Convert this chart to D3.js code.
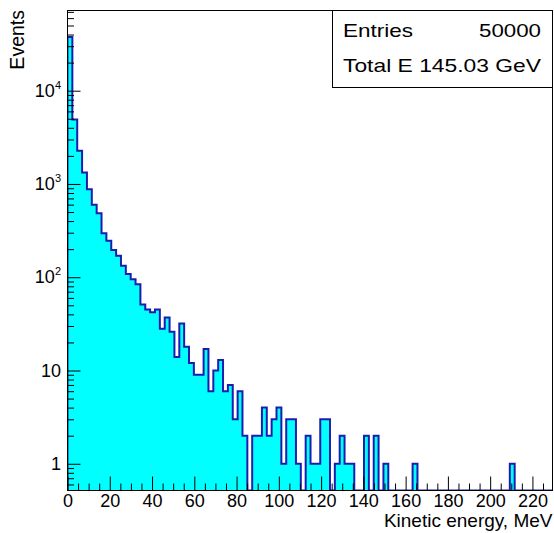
<!DOCTYPE html>
<html>
<head>
<meta charset="utf-8">
<script src="https://cdn.jsdelivr.net/npm/d3@7"></script>
<style>
  body { margin: 0; background: #fff; }
  svg text { font-family: "Liberation Sans", Arial, Helvetica, sans-serif; fill: #000; }
</style>
</head>
<body>
<div id="plot"></div>
<script>
// -----------------------------------------------------------------------
//  Data
// -----------------------------------------------------------------------

// histogram: 100 bins starting at 0 MeV, 2.3 MeV wide
const binStart = 0;
const binWidth = 2.3;
const binCounts = [
    37710, 4920, 2270, 1330, 875, 600, 484, 296, 246, 196,
    170, 133, 108, 95, 84, 51, 45, 42, 45, 28,
    37, 26, 14, 32, 18, 12, 9, 9, 17, 6,
    10, 13, 6, 7, 3, 6, 2, 0, 2, 2,
    4, 2, 3, 4, 1, 3, 3, 1, 0, 2,
    1, 1, 3, 3, 0, 1, 2, 1, 1, 0,
    0, 2, 0, 2, 0, 1, 0, 0, 0, 0,
    0, 1, 0, 0, 0, 0, 0, 0, 0, 0,
    0, 0, 0, 0, 0, 0, 0, 0, 0, 0,
    0, 1, 0, 0, 0, 0, 0, 0, 0, 0
];

// axis ranges and ticks
const xRange = [0, 229.5];
const yRange = [0.517, 7.24e4];
const xTicks = [0, 20, 40, 60, 80, 100, 120, 140, 160, 180, 200, 220];
const yTicks = [1, 10, 100, 1000, 10000];
const yTickLabels = ["1", "10", "10^2", "10^3", "10^4"];

// axis titles
const xTitle = "Kinetic energy, MeV";
const yTitle = "Events";

// stats box
const statNames = ["Entries", "Total E 145.03 GeV"];
const statValues = ["50000", ""];

// -----------------------------------------------------------------------
//  Layout
// -----------------------------------------------------------------------
const dimensions = [554, 533];
const margins = {top: 10.5, right: 1.5, bottom: 42.5, left: 67.5};

let x_scale, y_scale;

function initializeLayout(){
    const [w, h] = dimensions;
    x_scale = d3.scaleLinear().domain(xRange).range([margins.left, w - margins.right]);
    y_scale = d3.scaleLog().domain(yRange).range([h - margins.bottom, margins.top]);

    const svg = d3.select("#plot").append("svg")
        .attr("width", w)
        .attr("height", h)
        .attr("id", "hist_svg");

    svg.append("clipPath").attr("id", "frame_clip")
        .append("rect")
        .attr("x", margins.left).attr("y", margins.top)
        .attr("width", w - margins.left - margins.right)
        .attr("height", h - margins.top - margins.bottom);
}

function draw(){
    const [w, h] = dimensions;
    const svg = d3.select("#hist_svg");
    const yBottom = h - margins.bottom;

    // bins -> step points (empty bins fall to the frame bottom)
    const pts = [{x: binStart, y: yBottom}];
    binCounts.forEach((c, i) => {
        pts.push({x: binStart + i * binWidth, y: c > 0 ? y_scale(c) : yBottom});
    });
    pts.push({x: binStart + binCounts.length * binWidth, y: pts[pts.length - 1].y});
    pts.push({x: binStart + binCounts.length * binWidth, y: yBottom});

    const area = d3.area()
        .x(d => x_scale(d.x))
        .y0(yBottom)
        .y1(d => d.y)
        .curve(d3.curveStepAfter);

    const line = d3.line()
        .x(d => x_scale(d.x))
        .y(d => d.y)
        .curve(d3.curveStepAfter);

    const g = svg.append("g").attr("clip-path", "url(#frame_clip)");
    g.append("path").attr("d", area(pts)).attr("fill", "#00ffff");
    g.append("path").attr("d", line(pts))
        .attr("fill", "none")
        .attr("stroke", "#1c1cae")
        .attr("stroke-width", 2);

    // minor ticks
    const xMinor = d3.range(0, 230, 5).filter(v => v % 20 !== 0);
    const yMinor = [];
    [0.1, 1, 10, 100, 1000, 10000].forEach(d => {
        for (let m = 2; m <= 9; m++) {
            const v = d * m;
            if (v >= yRange[0] && v <= yRange[1]) yMinor.push(v);
        }
    });

    svg.append("g")
        .attr("transform", `translate(0,${yBottom})`)
        .call(d3.axisBottom(x_scale).tickValues(xMinor).tickSize(-7).tickFormat(""))
        .call(a => a.select(".domain").remove());

    svg.append("g")
        .attr("transform", `translate(${margins.left},0)`)
        .call(d3.axisLeft(y_scale).tickValues(yMinor).tickSize(-6.5).tickFormat(""))
        .call(a => a.select(".domain").remove());

    // major ticks + labels
    const xAxis = svg.append("g")
        .attr("transform", `translate(0,${yBottom})`)
        .call(d3.axisBottom(x_scale).tickValues(xTicks).tickSize(-14).tickPadding(4))
        .call(a => a.select(".domain").remove());
    xAxis.selectAll("text").attr("font-size", 18).attr("font-family", null);

    const yAxis = svg.append("g")
        .attr("transform", `translate(${margins.left},0)`)
        .call(d3.axisLeft(y_scale).tickValues(yTicks).tickSize(-13).tickPadding(6.5)
            .tickFormat((d, i) => ""))
        .call(a => a.select(".domain").remove());

    yAxis.selectAll(".tick text").each(function(d, i){
        const t = d3.select(this).attr("font-size", 18).attr("font-family", null);
        const parts = yTickLabels[i].split("^");
        t.append("tspan").text(parts[0]);
        if (parts.length > 1) {
            t.append("tspan").attr("font-size", 11).attr("dy", "-0.75em").text(parts[1]);
        }
    });

    svg.selectAll(".tick line").attr("stroke", "#000");

    // frame
    svg.append("rect")
        .attr("x", margins.left).attr("y", margins.top)
        .attr("width", w - margins.left - margins.right)
        .attr("height", h - margins.top - margins.bottom)
        .attr("fill", "none")
        .attr("stroke", "#000");

    // axis titles
    svg.append("text")
        .attr("x", w - margins.right)
        .attr("y", 527)
        .attr("text-anchor", "end")
        .attr("font-size", 19)
        .text(xTitle);

    svg.append("text")
        .attr("transform", "translate(24,10) rotate(-90)")
        .attr("text-anchor", "end")
        .attr("font-size", 19.5)
        .text(yTitle);

    // stats box
    svg.append("rect")
        .attr("x", 332.5).attr("y", margins.top)
        .attr("width", w - margins.right - 332.5)
        .attr("height", 77)
        .attr("fill", "#fff")
        .attr("stroke", "#000");

    svg.append("text").attr("x", 343).attr("y", 36.5)
        .attr("font-size", 19).attr("textLength", 70).attr("lengthAdjust", "spacingAndGlyphs")
        .text(statNames[0]);
    svg.append("text").attr("x", 479).attr("y", 36.5)
        .attr("font-size", 19).attr("textLength", 62).attr("lengthAdjust", "spacingAndGlyphs")
        .text(statValues[0]);
    svg.append("text").attr("x", 343).attr("y", 71.5)
        .attr("font-size", 19).attr("textLength", 198).attr("lengthAdjust", "spacingAndGlyphs")
        .text(statNames[1]);
}

initializeLayout();
draw();
</script>
</body>
</html>
